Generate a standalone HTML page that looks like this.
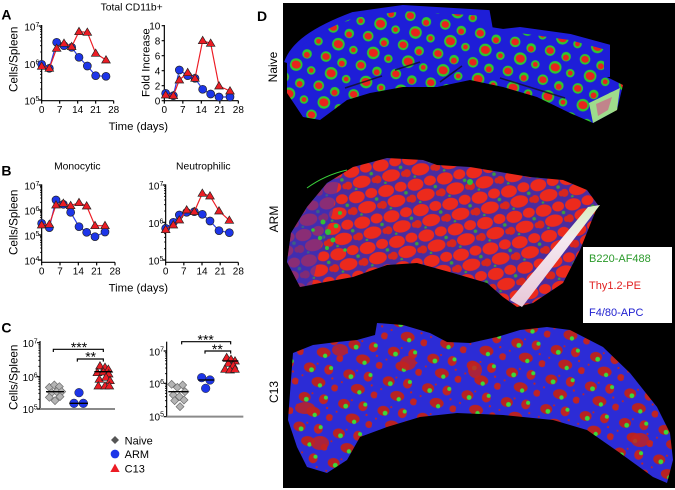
<!DOCTYPE html>
<html><head><meta charset="utf-8">
<style>html,body{margin:0;padding:0;background:#fff;width:675px;height:490px;overflow:hidden}svg{display:block}</style>
</head>
<body>
<svg width="675" height="490" viewBox="0 0 675 490" xmlns="http://www.w3.org/2000/svg" font-family="'Liberation Sans', Arial, sans-serif">
<defs>
<path id="tri" d="M0,-13 L13,9 L-13,9Z" fill="#ec1c24" stroke="#222" stroke-width="2"/>
<path id="dia" d="M0,-12 L12,0 L0,12 L-12,0Z" fill="#b4b4b4" stroke="#6a6a6a" stroke-width="2"/>
<pattern id="pn" width="36" height="30" patternUnits="userSpaceOnUse" patternTransform="rotate(14)">
<rect width="36" height="30" fill="#1e1ed8"/>
<circle cx="6" cy="6" r="5.3" fill="#2ec82e"/>
<ellipse cx="6" cy="6" rx="3.8" ry="3.4" fill="#e8241c"/>
<circle cx="23" cy="8" r="4.8" fill="#2ec82e"/>
<circle cx="23" cy="9" r="3" fill="#e8241c"/>
<circle cx="15" cy="21" r="6.3" fill="#2ec82e"/>
<ellipse cx="15" cy="21" rx="4.6" ry="4" fill="#e8241c"/>
<circle cx="31" cy="23" r="4.3" fill="#2ec82e"/>
<circle cx="31" cy="23" r="2.4" fill="#e8241c"/>
</pattern>
<pattern id="pa" width="30" height="26" patternUnits="userSpaceOnUse" patternTransform="rotate(-12)">
<rect width="30" height="26" fill="#4a2c9e"/>
<ellipse cx="8" cy="7" rx="8" ry="6" fill="#ec2a1c"/>
<ellipse cx="23" cy="6" rx="6" ry="5" fill="#ec2a1c"/>
<ellipse cx="16" cy="19" rx="9" ry="6" fill="#ec2a1c"/>
<ellipse cx="2" cy="20" rx="4" ry="4" fill="#d8261c"/>
<ellipse cx="29" cy="20" rx="3" ry="3" fill="#d8261c"/>
<circle cx="27" cy="13" r="1.8" fill="#3b9b3b"/>
<circle cx="9" cy="25" r="1.3" fill="#3b9b3b"/>
</pattern>
<pattern id="pc" width="40" height="30" patternUnits="userSpaceOnUse" patternTransform="rotate(10)">
<rect width="40" height="30" fill="#2c2cd6"/>
<ellipse cx="9" cy="8" rx="6" ry="5" fill="#b82222"/>
<ellipse cx="28" cy="7" rx="4.5" ry="5" fill="#c02424"/>
<ellipse cx="20" cy="21" rx="7" ry="5" fill="#b82222"/>
<ellipse cx="37" cy="24" rx="3.5" ry="3.5" fill="#c02424"/>
<circle cx="11" cy="10" r="2.4" fill="#3adb3a"/>
<circle cx="30" cy="5" r="2" fill="#3adb3a"/>
<circle cx="22" cy="24" r="2.2" fill="#3adb3a"/>
<circle cx="3" cy="17" r="1" fill="#c02424"/>
<circle cx="16" cy="3" r="1" fill="#c02424"/>
<circle cx="33" cy="15" r="1.1" fill="#c02424"/>
</pattern>
<linearGradient id="stripe" x1="0" y1="0" x2="0" y2="1">
<stop offset="0" stop-color="#d8f0c0"/><stop offset="0.35" stop-color="#f4e8f0"/><stop offset="1" stop-color="#e8c8d8"/>
</linearGradient>
</defs>
<rect width="675" height="490" fill="#fff"/>

<!-- ================= Panel A ================= -->
<g transform="scale(0.333333)">
<text x="395" y="32" font-size="31" text-anchor="middle">Total CD11b+</text>
<text x="4" y="58" font-size="42" font-weight="bold">A</text>
<text transform="translate(52,178) rotate(-90)" font-size="35" text-anchor="middle">Cells/Spleen</text>
<text transform="translate(448,188) rotate(-90)" font-size="34" text-anchor="middle">Fold Increase</text>
<text x="415" y="390" font-size="34" text-anchor="middle">Time (days)</text>
<g stroke="#000" stroke-width="3.5" fill="none">
<path d="M125,75 V302 H341"/>
<path d="M116,78 H125 M116,190 H125 M116,300 H125"/>
<path d="M125,302 v9 M179,302 v9 M233,302 v9 M287,302 v9 M341,302 v9"/>
<path stroke-width="2.5" d="M120,267h5M120,247.5h5M120,234h5M120,223h5M120,214h5M120,207h5M120,201h5M120,195h5M120,156h5M120,137h5M120,123h5M120,112h5M120,103h5M120,95h5M120,89h5M120,83h5"/>
</g>
<g font-size="30" text-anchor="end">
<text x="118" y="92">10<tspan font-size="21" dy="-11">7</tspan></text>
<text x="118" y="204">10<tspan font-size="21" dy="-11">6</tspan></text>
<text x="118" y="314">10<tspan font-size="21" dy="-11">5</tspan></text>
</g>
<g font-size="30" text-anchor="middle">
<text x="125" y="339">0</text><text x="179" y="339">7</text><text x="233" y="339">14</text><text x="287" y="339">21</text><text x="341" y="339">28</text>
</g>
<polyline points="125,193 148,205 170,127 192,137 215,142 237,172 262,198 287,227 318,229" fill="none" stroke="#2a3ce6" stroke-width="3.5"/>
<g fill="#1d35e8" stroke="#222" stroke-width="2">
<circle cx="125" cy="193" r="12"/><circle cx="148" cy="205" r="12"/><circle cx="170" cy="127" r="12"/><circle cx="192" cy="137" r="12"/><circle cx="215" cy="142" r="12"/><circle cx="237" cy="172" r="12"/><circle cx="262" cy="198" r="12"/><circle cx="287" cy="227" r="12"/><circle cx="318" cy="229" r="12"/>
</g>
<polyline points="125,197 148,205 170,145 192,130 215,140 237,95 262,97 287,160 318,180" fill="none" stroke="#ec1c24" stroke-width="3.5"/>
<use href="#tri" x="125" y="199"/><use href="#tri" x="148" y="205"/><use href="#tri" x="170" y="145"/><use href="#tri" x="192" y="130"/><use href="#tri" x="215" y="140"/><use href="#tri" x="237" y="95"/><use href="#tri" x="262" y="97"/><use href="#tri" x="287" y="160"/><use href="#tri" x="318" y="180"/>
<g stroke="#000" stroke-width="3.5" fill="none">
<path d="M493,75 V302 H715"/>
<path d="M485,77 H493 M485,122 H493 M485,167 H493 M485,212 H493 M485,257 H493 M485,302 H493"/>
<path d="M493,302 v9 M548.5,302 v9 M604,302 v9 M659.5,302 v9 M715,302 v9"/>
</g>
<g font-size="30" text-anchor="end">
<text x="481" y="88">10</text><text x="481" y="133">8</text><text x="481" y="178">6</text><text x="481" y="223">4</text><text x="481" y="268">2</text><text x="481" y="313">0</text>
</g>
<g font-size="30" text-anchor="middle">
<text x="493" y="339">0</text><text x="548.5" y="339">7</text><text x="604" y="339">14</text><text x="659.5" y="339">21</text><text x="715" y="339">28</text>
</g>
<polyline points="497,280 520,287 538,210 563,227 585,235 608,268 632,282 657,291 690,291" fill="none" stroke="#2a3ce6" stroke-width="3.5"/>
<g fill="#1d35e8" stroke="#222" stroke-width="2">
<circle cx="497" cy="280" r="12"/><circle cx="520" cy="287" r="12"/><circle cx="538" cy="210" r="12"/><circle cx="563" cy="227" r="12"/><circle cx="585" cy="235" r="12"/><circle cx="608" cy="268" r="12"/><circle cx="632" cy="282" r="12"/><circle cx="657" cy="291" r="12"/><circle cx="690" cy="291" r="12"/>
</g>
<polyline points="497,283 520,287 538,240 563,218 585,235 608,122 632,130 657,258 690,273" fill="none" stroke="#ec1c24" stroke-width="3.5"/>
<use href="#tri" x="497" y="285"/><use href="#tri" x="520" y="287"/><use href="#tri" x="538" y="240"/><use href="#tri" x="563" y="218"/><use href="#tri" x="585" y="235"/><use href="#tri" x="608" y="122"/><use href="#tri" x="632" y="130"/><use href="#tri" x="657" y="258"/><use href="#tri" x="690" y="273"/>
</g>

<!-- ================= Panel B ================= -->
<g transform="translate(0,135) scale(0.333333)">
<text x="4" y="122" font-size="42" font-weight="bold">B</text>
<text x="232" y="103" font-size="31" text-anchor="middle">Monocytic</text>
<text x="610" y="103" font-size="31" text-anchor="middle">Neutrophilic</text>
<text transform="translate(52,262) rotate(-90)" font-size="35" text-anchor="middle">Cells/Spleen</text>
<g stroke="#000" stroke-width="3.5" fill="none">
<path d="M125,148 V382 H345"/>
<path d="M116,150 H125 M116,225 H125 M116,300 H125 M116,375 H125"/>
<path d="M125,382 v9 M180,382 v9 M235,382 v9 M290,382 v9 M345,382 v9"/>
<path stroke-width="2.5" d="M120,352h5M120,339h5M120,330h5M120,323h5M120,317h5M120,312h5M120,307h5M120,304h5M120,277h5M120,264h5M120,255h5M120,248h5M120,242h5M120,237h5M120,232h5M120,229h5M120,202h5M120,189h5M120,180h5M120,173h5M120,167h5M120,162h5M120,157h5M120,154h5"/>
<path d="M497,148 V382 H715"/>
<path d="M488,150 H497 M488,262 H497 M488,375 H497"/>
<path d="M497,382 v9 M551.5,382 v9 M606,382 v9 M660.5,382 v9 M715,382 v9"/>
<path stroke-width="2.5" d="M492,341h5M492,321h5M492,307h5M492,296h5M492,287h5M492,280h5M492,273h5M492,267h5M492,228h5M492,209h5M492,195h5M492,184h5M492,175h5M492,167h5M492,161h5M492,155h5"/>
</g>
<g font-size="30" text-anchor="end">
<text x="118" y="164">10<tspan font-size="21" dy="-11">7</tspan></text>
<text x="118" y="239">10<tspan font-size="21" dy="-11">6</tspan></text>
<text x="118" y="314">10<tspan font-size="21" dy="-11">5</tspan></text>
<text x="118" y="389">10<tspan font-size="21" dy="-11">4</tspan></text>
<text x="490" y="164">10<tspan font-size="21" dy="-11">7</tspan></text>
<text x="490" y="276">10<tspan font-size="21" dy="-11">6</tspan></text>
<text x="490" y="389">10<tspan font-size="21" dy="-11">5</tspan></text>
</g>
<g font-size="30" text-anchor="middle">
<text x="125" y="419">0</text><text x="180" y="419">7</text><text x="235" y="419">14</text><text x="290" y="419">21</text><text x="345" y="419">28</text>
<text x="497" y="419">0</text><text x="551.5" y="419">7</text><text x="606" y="419">14</text><text x="660.5" y="419">21</text><text x="715" y="419">28</text>
</g>
<polyline points="125,265 148,278 168,195 190,208 212,232 237,275 260,292 285,305 315,291" fill="none" stroke="#2a3ce6" stroke-width="3.5"/>
<g fill="#1d35e8" stroke="#222" stroke-width="2">
<circle cx="125" cy="265" r="12"/><circle cx="148" cy="278" r="12"/><circle cx="168" cy="195" r="12"/><circle cx="190" cy="208" r="12"/><circle cx="212" cy="232" r="12"/><circle cx="237" cy="275" r="12"/><circle cx="260" cy="292" r="12"/><circle cx="285" cy="305" r="12"/><circle cx="315" cy="291" r="12"/>
</g>
<polyline points="125,268 148,268 168,210 190,205 212,212 237,203 260,213 285,272 315,272" fill="none" stroke="#ec1c24" stroke-width="3.5"/>
<use href="#tri" x="125" y="270"/><use href="#tri" x="148" y="268"/><use href="#tri" x="168" y="210"/><use href="#tri" x="190" y="205"/><use href="#tri" x="212" y="212"/><use href="#tri" x="237" y="203"/><use href="#tri" x="260" y="213"/><use href="#tri" x="285" y="272"/><use href="#tri" x="315" y="272"/>
<polyline points="497,280 520,262 538,240 560,232 583,230 607,238 630,258 657,287 688,293" fill="none" stroke="#2a3ce6" stroke-width="3.5"/>
<g fill="#1d35e8" stroke="#222" stroke-width="2">
<circle cx="497" cy="280" r="12"/><circle cx="520" cy="262" r="12"/><circle cx="538" cy="240" r="12"/><circle cx="560" cy="232" r="12"/><circle cx="583" cy="230" r="12"/><circle cx="607" cy="238" r="12"/><circle cx="630" cy="258" r="12"/><circle cx="657" cy="287" r="12"/><circle cx="688" cy="293" r="12"/>
</g>
<polyline points="497,282 520,270 538,255 560,225 583,230 607,175 630,183 657,228 688,256" fill="none" stroke="#ec1c24" stroke-width="3.5"/>
<use href="#tri" x="497" y="284"/><use href="#tri" x="520" y="270"/><use href="#tri" x="538" y="255"/><use href="#tri" x="560" y="225"/><use href="#tri" x="583" y="230"/><use href="#tri" x="607" y="175"/><use href="#tri" x="630" y="183"/><use href="#tri" x="657" y="228"/><use href="#tri" x="688" y="256"/>
</g>

<!-- ================= Panel C ================= -->
<g transform="translate(0,280) scale(0.333333)">
<text x="415" y="35" font-size="34" text-anchor="middle">Time (days)</text>
<text x="4" y="158" font-size="42" font-weight="bold">C</text>
<text transform="translate(52,292) rotate(-90)" font-size="35" text-anchor="middle">Cells/Spleen</text>
<g stroke="#000" stroke-width="3.5" fill="none">
<path d="M120,183 V387"/>
<path d="M111,188 H120 M111,290 H120 M111,387 H120"/>
<path stroke-width="2.5" d="M115,358h5M115,340h5M115,329h5M115,319h5M115,311h5M115,305h5M115,299h5M115,294h5M115,259h5M115,241h5M115,229h5M115,219h5M115,211h5M115,204h5M115,198h5M115,193h5"/>
<path d="M500,185 V410"/>
<path d="M491,213 H500 M491,310 H500 M491,410 H500"/>
<path stroke-width="2.5" d="M495,380h5M495,362h5M495,350h5M495,340h5M495,332h5M495,325h5M495,320h5M495,315h5M495,281h5M495,264h5M495,252h5M495,242h5M495,235h5M495,228h5M495,222h5M495,218h5"/>
</g>
<path d="M120,387 H345" stroke="#8a8a8a" stroke-width="6"/>
<path d="M500,410 H730" stroke="#8a8a8a" stroke-width="6"/>
<g font-size="30" text-anchor="end">
<text x="113" y="201">10<tspan font-size="21" dy="-11">7</tspan></text>
<text x="113" y="303">10<tspan font-size="21" dy="-11">6</tspan></text>
<text x="113" y="399">10<tspan font-size="21" dy="-11">5</tspan></text>
<text x="492" y="226">10<tspan font-size="21" dy="-11">7</tspan></text>
<text x="492" y="323">10<tspan font-size="21" dy="-11">6</tspan></text>
<text x="492" y="421">10<tspan font-size="21" dy="-11">5</tspan></text>
</g>
<use href="#dia" x="148" y="322"/><use href="#dia" x="163" y="315"/><use href="#dia" x="178" y="320"/><use href="#dia" x="155" y="338"/><use href="#dia" x="170" y="335"/><use href="#dia" x="185" y="335"/><use href="#dia" x="148" y="352"/><use href="#dia" x="165" y="362"/><use href="#dia" x="180" y="350"/>
<path d="M138,335 H192" stroke="#000" stroke-width="4"/>
<g fill="#1d35e8" stroke="#222" stroke-width="1.5">
<circle cx="237" cy="338" r="13"/><circle cx="222" cy="370" r="13"/><circle cx="250" cy="370" r="13"/>
</g>
<path d="M208,370 H264" stroke="#000" stroke-width="4"/>
<use href="#tri" x="300" y="258"/><use href="#tri" x="315" y="262"/><use href="#tri" x="325" y="268"/><use href="#tri" x="292" y="278"/><use href="#tri" x="310" y="276"/><use href="#tri" x="326" y="282"/><use href="#tri" x="298" y="298"/><use href="#tri" x="318" y="292"/><use href="#tri" x="330" y="302"/><use href="#tri" x="295" y="318"/><use href="#tri" x="315" y="318"/><use href="#tri" x="328" y="318"/>
<path d="M283,275 H337" stroke="#000" stroke-width="4"/>
<path d="M160,216 V208 H310 V216 M232,245 V237 H310 V245" stroke="#000" stroke-width="3.5" fill="none"/>
<text x="237" y="216" font-size="42" text-anchor="middle">***</text>
<text x="272" y="244" font-size="42" text-anchor="middle">**</text>
<use href="#dia" x="515" y="313"/><use href="#dia" x="532" y="322"/><use href="#dia" x="548" y="315"/><use href="#dia" x="555" y="335"/><use href="#dia" x="520" y="345"/><use href="#dia" x="538" y="350"/><use href="#dia" x="524" y="362"/><use href="#dia" x="552" y="360"/><use href="#dia" x="540" y="380"/>
<path d="M505,335 H565" stroke="#000" stroke-width="4"/>
<g fill="#1d35e8" stroke="#222" stroke-width="1.5">
<circle cx="605" cy="293" r="13"/><circle cx="630" cy="300" r="13"/><circle cx="617" cy="325" r="13"/>
</g>
<path d="M595,300 H642" stroke="#000" stroke-width="4"/>
<use href="#tri" x="680" y="233"/><use href="#tri" x="693" y="238"/><use href="#tri" x="705" y="243"/><use href="#tri" x="685" y="250"/><use href="#tri" x="700" y="256"/><use href="#tri" x="675" y="268"/><use href="#tri" x="690" y="270"/><use href="#tri" x="705" y="268"/>
<path d="M668,243 H715" stroke="#000" stroke-width="4"/>
<path d="M545,193 V185 H692 V193 M615,221 V213 H692 V221" stroke="#000" stroke-width="3.5" fill="none"/>
<text x="617" y="194" font-size="42" text-anchor="middle">***</text>
<text x="652" y="222" font-size="42" text-anchor="middle">**</text>
<path d="M345,468 L357,480 L345,492 L333,480Z" fill="#555"/>
<text x="374" y="493" font-size="33">Naive</text>
<circle cx="345" cy="522" r="13" fill="#1d35e8"/>
<text x="374" y="534" font-size="33">ARM</text>
<path d="M345,551 L359,576 L331,576Z" fill="#ec1c24"/>
<text x="374" y="577" font-size="33">C13</text>
</g>

<!-- ================= Panel D ================= -->
<text x="257" y="21" font-size="14" font-weight="bold">D</text>
<text transform="translate(277,67) rotate(-90)" font-size="12" text-anchor="middle">Naive</text>
<text transform="translate(278,219) rotate(-90)" font-size="12" text-anchor="middle">ARM</text>
<text transform="translate(278,392) rotate(-90)" font-size="12" text-anchor="middle">C13</text>
<rect x="283" y="3" width="392" height="485" fill="#000"/>

<!-- Naive spleen -->
<path d="M287,63 C293,45 313,30 353,15 L403,8 L487,13 L490,30 L503,32 L520,30 L570,37 L607,47 L607,77 L623,85 L617,110 L593,123 L570,113 L537,97 L503,87 L470,80 L437,87 L403,87 L370,93 L347,100 L320,120 L303,117 L287,93 Z" fill="url(#pn)"/>
<path d="M287,63 C293,45 313,30 353,15 L403,8 L487,13 L490,30 L503,32 L520,30 L570,37 L607,47 L607,77" fill="none" stroke="#1e1ed8" stroke-width="6"/>
<g stroke="#101020" stroke-width="1.5" fill="none" opacity="0.8">
<path d="M345,88 L382,76"/><path d="M440,82 L462,66"/><path d="M500,78 L565,98"/><path d="M395,70 L420,62"/>
</g>
<path d="M589,103 L620,88 L617,110 L593,123 Z" fill="#9edc8c"/>
<path d="M596,104 L612,97 L608,110 L598,116 Z" fill="#d84a8a" opacity="0.6"/>

<!-- ARM spleen -->
<path d="M287,262 L291,233 L307,207 L327,183 L353,167 L387,158 L423,160 L437,165 L470,167 L500,172 L530,177 L563,180 L587,190 L598,205 L580,250 L563,283 L533,303 L517,307 L503,297 L487,283 L453,273 L417,263 L387,265 L353,277 L320,283 L300,287 Z" fill="url(#pa)"/>
<path d="M287,262 L291,233 L307,207 L327,183 L340,176 L332,215 L320,250 L312,285 L300,287 Z" fill="#3a30c0" opacity="0.55"/>
<g fill="#33c033">
<circle cx="323" cy="222" r="2.5"/><circle cx="328" cy="232" r="3"/><circle cx="333" cy="240" r="2.5"/><circle cx="320" cy="238" r="2.2"/><circle cx="336" cy="226" r="2.3"/><circle cx="327" cy="248" r="2"/><circle cx="340" cy="213" r="2"/><circle cx="470" cy="182" r="3"/><circle cx="313" cy="230" r="1.8"/><circle cx="345" cy="250" r="1.8"/>
</g>
<path d="M307,188 Q325,175 347,170" stroke="#3ad03a" stroke-width="1" fill="none"/>
<path d="M588,207 L600,205 L522,307 L510,300 Z" fill="url(#stripe)"/>

<!-- C13 spleen -->
<path d="M290,393 L293,353 L313,345 L337,342 L357,340 L375,335 L377,323 L403,325 L430,333 L447,342 L470,343 L497,337 L520,330 L547,327 L570,330 L603,347 L630,373 L657,407 L670,433 L673,460 L667,483 L653,477 L620,453 L587,430 L553,420 L503,415 L457,413 L420,417 L387,427 L360,437 L347,460 L327,473 L307,467 L297,447 L288,420 Z" fill="url(#pc)"/>
<g fill="#c02222" opacity="0.85">
<ellipse cx="305" cy="408" rx="10" ry="6"/><ellipse cx="320" cy="443" rx="9" ry="7"/><ellipse cx="340" cy="350" rx="8" ry="6"/><ellipse cx="408" cy="363" rx="8" ry="7"/><ellipse cx="475" cy="370" rx="7" ry="8"/><ellipse cx="640" cy="440" rx="9" ry="7"/>
</g>

<!-- legend box -->
<rect x="583" y="247" width="89" height="76" fill="#fff"/>
<text x="589" y="262" font-size="11" fill="#2a9a2a">B220-AF488</text>
<text x="589" y="289" font-size="11" fill="#e02020">Thy1.2-PE</text>
<text x="589" y="316" font-size="11" fill="#2020d0">F4/80-APC</text>
</svg>
</body></html>
